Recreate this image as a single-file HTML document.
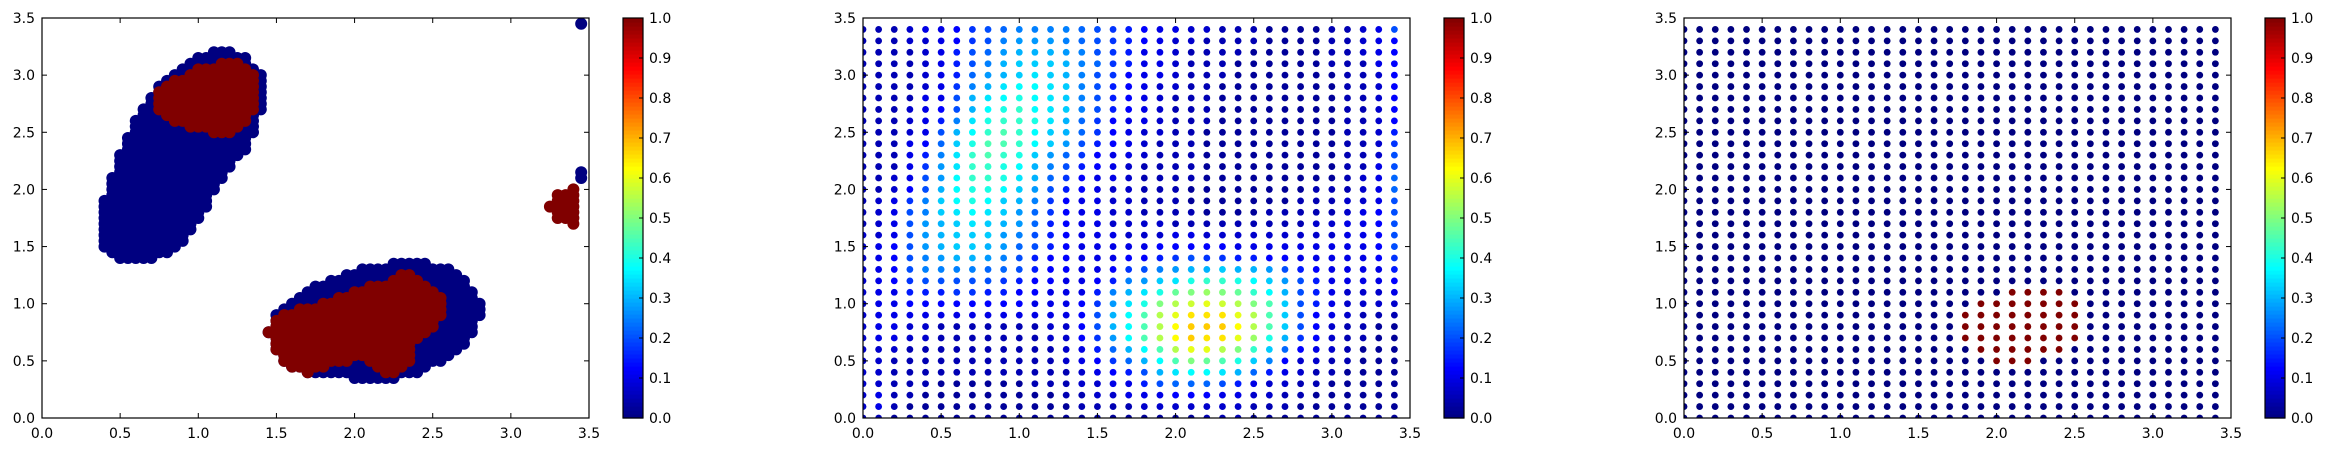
<!DOCTYPE html>
<html><head><meta charset="utf-8"><style>
html,body{margin:0;padding:0;background:#fff;}
svg text{font-family:"DejaVu Sans","Liberation Sans",sans-serif;font-size:14px;fill:#000;}
</style></head>
<body>
<svg id="fig" width="2326" height="452" xmlns="http://www.w3.org/2000/svg"></svg>
<script>
// ---- data ----
const xTicks = [0.0,0.5,1.0,1.5,2.0,2.5,3.0,3.5];
const yTicks = [0.0,0.5,1.0,1.5,2.0,2.5,3.0,3.5];
const cbTicks = [0.0,0.1,0.2,0.3,0.4,0.5,0.6,0.7,0.8,0.9,1.0];
// panel 1: cluster rows [y, xmin, xmax] on a 0.05 grid
const blob1Rows = [[1.40,.50,.70],[1.45,.45,.80],[1.50,.40,.85],[1.55,.40,.90],[1.60,.40,.90],[1.65,.40,.95],[1.70,.40,.95],[1.75,.40,1.0],[1.80,.40,1.0],[1.85,.40,1.05],[1.90,.40,1.05],[1.95,.45,1.05],[2.00,.45,1.10],[2.05,.45,1.10],[2.10,.45,1.15],[2.15,.50,1.15],[2.20,.50,1.20],[2.25,.50,1.20],[2.30,.50,1.25],[2.35,.55,1.30],[2.40,.55,1.30],[2.45,.55,1.30],[2.50,.60,1.35],[2.55,.60,1.35],[2.60,.60,1.35],[2.65,.65,1.35],[2.70,.65,1.40],[2.75,.70,1.40],[2.80,.70,1.40],[2.85,.75,1.40],[2.90,.75,1.40],[2.95,.80,1.40],[3.00,.85,1.40],[3.05,.90,1.35],[3.10,.95,1.30],[3.15,1.00,1.30],[3.20,1.10,1.20]];
const blob1Red = [[2.50,1.10,1.20],[2.55,.95,1.25],[2.60,.85,1.30],[2.65,.80,1.30],[2.70,.75,1.35],[2.75,.75,1.35],[2.80,.75,1.35],[2.85,.75,1.35],[2.90,.80,1.35],[2.95,.85,1.35],[3.00,.95,1.35],[3.05,1.00,1.30],[3.10,1.15,1.25]];
const blob2Rows = [[0.35,2.00,2.25],[0.40,1.70,2.40],[0.45,1.60,2.45],[0.50,1.55,2.55],[0.55,1.55,2.60],[0.60,1.50,2.65],[0.65,1.50,2.70],[0.70,1.50,2.70],[0.75,1.45,2.75],[0.80,1.50,2.75],[0.85,1.50,2.75],[0.90,1.50,2.80],[0.95,1.55,2.80],[1.00,1.60,2.80],[1.05,1.65,2.75],[1.10,1.70,2.75],[1.15,1.75,2.70],[1.20,1.85,2.70],[1.25,1.95,2.65],[1.30,2.05,2.60],[1.35,2.25,2.45]];
const blob2Red = [[0.40,1.70,1.70],[0.40,2.20,2.25],[0.45,1.60,1.80],[0.45,2.15,2.30],[0.50,1.55,1.95],[0.50,2.10,2.35],[0.55,1.55,2.35],[0.60,1.50,2.35],[0.65,1.50,2.35],[0.70,1.50,2.40],[0.75,1.45,2.45],[0.80,1.50,2.50],[0.85,1.50,2.50],[0.90,1.55,2.55],[0.95,1.65,2.55],[1.00,1.80,2.55],[1.05,1.90,2.55],[1.10,2.00,2.50],[1.15,2.10,2.45],[1.20,2.25,2.40],[1.25,2.30,2.35]];
const clusterRed = [[1.85,3.25,3.25],[1.75,3.30,3.35],[1.80,3.30,3.35],[1.85,3.30,3.35],[1.90,3.30,3.35],[1.95,3.30,3.35],[1.70,3.40,3.40],[1.75,3.40,3.40],[1.80,3.40,3.40],[1.85,3.40,3.40],[1.90,3.40,3.40],[1.95,3.40,3.40],[2.00,3.40,3.40]];
const strayBlueX = [3.45,3.45,3.45];
const strayBlueY = [2.10,2.15,3.45];
// panel 2: values on a 0.1 grid, rows from y=3.4 down to y=0.0, cols x=0.0..3.4; char index * 0.025
const gridRows = [
"22234 45789 aaaa9 87654 43322 21111 22348",
"22233 4578a bbba9 87654 33222 21111 22345",
"22223 4689b cccba 87644 32222 11111 22345",
"22223 468ac dddca 97644 32221 11111 22245",
"22223 469bc dedca 87544 32221 11111 12235",
"22223 47ace ffeda 86543 32211 11111 12235",
"22224 48cef gfeda 86543 22211 11111 12235",
"22234 58cfg hfeda 86543 22211 11111 12235",
"22234 6aegh hgec9 75443 22211 11111 12235",
"22234 8cfhi hfdc9 75433 22111 11111 12236",
"22245 9dgii hfdb8 65432 22111 11111 12237",
"22246 aehih gdb97 54432 22111 11111 12238",
"22247 behhg fca86 54322 22111 11111 12248",
"22348 bfhhg ec975 44322 22111 11111 12349",
"22358 cfggf db865 43322 21111 11112 22349",
"2347a dfgfd ca754 43322 21111 11122 23348",
"2348a defed b9754 43322 22111 12222 23458",
"2348b cdedc b9654 43333 22222 22223 34458",
"3348b cdddb a8654 44333 44333 33333 34458",
"3458b cddcb 98654 44445 55554 44444 44458",
"3458a bccba 86554 44556 78776 65544 44457",
"3458a aaa99 86554 4578a bccdc cb865 44446",
"34578 88887 65544 56abd eghhg fdb86 44445",
"34466 67766 55444 6aceg jklkj hfc86 43334",
"34455 55555 54445 7begk mnonm kid86 43333",
"34444 44444 44445 8cfim oqqqo mid85 43222",
"34433 22222 22335 8cfim prrrp mid85 32211",
"34433 22222 22335 7bfim prqqo lgc75 32211",
"33322 22222 22234 69cfi moomk hd954 32111",
"33222 22222 22234 579cf ikjig da533 22111",
"33222 22222 22223 4568c effec 96432 21111",
"33222 11111 12223 34468 99986 43322 11111",
"34221 11111 11122 33444 55544 33221 11111",
"34211 11111 11112 22233 33333 22211 11111",
"22111 11111 11111 11111 11222 11111 11111"
];
// panel 3: binary mask rows [y, xmin, xmax] of value 1 on 0.1 grid
const maskRows = [[1.1,2.1,2.4],[1.0,1.9,2.5],[0.9,1.8,2.5],[0.8,1.8,2.5],[0.7,1.8,2.5],[0.6,1.9,2.4],[0.5,2.0,2.2]];

// ---- layout ----
const NS = "http://www.w3.org/2000/svg";
const svg = document.getElementById('fig');
const LEFTS = [42, 863, 1684], TOP = 18, W = 547, H = 400;
function el(tag, attrs, parent){ const e=document.createElementNS(NS,tag); for(const k in attrs) e.setAttribute(k,attrs[k]); (parent||svg).appendChild(e); return e; }
function jet(v){
  v=Math.max(0,Math.min(1,v));
  const cl=x=>Math.max(0,Math.min(1,x));
  const r=cl(Math.min(4*v-1.5,-4*v+4.5)), g=cl(Math.min(4*v-0.5,-4*v+3.5)), b=cl(Math.min(4*v+0.5,-4*v+2.5));
  return `rgb(${Math.round(r*255)},${Math.round(g*255)},${Math.round(b*255)})`;
}
function sx(p,x){ return LEFTS[p] + x/3.5*W; }
function sy(y){ return TOP + H - y/3.5*H; }

function axes(p){
  const g = el('g',{});
  
  
  const defs = el('defs',{},g);
  const cp = el('clipPath',{id:'clip'+p},defs);
  el('rect',{x:LEFTS[p],y:TOP,width:W,height:H},cp);
  const pts = el('g',{'clip-path':`url(#clip${p})`},g);
  
  
  return {g, pts};
}
function frame(p, g){
  const L=LEFTS[p];
  const fr = el('rect',{x:L,y:TOP,width:W,height:H,fill:'none',stroke:'#000','stroke-width':1.2},g);
  
  
  xTicks.forEach(t=>{
    const x=sx(p,t);
    el('line',{x1:x,y1:TOP+H,x2:x,y2:TOP+H-5,stroke:'#000'},g);
    el('line',{x1:x,y1:TOP,x2:x,y2:TOP+5,stroke:'#000'},g);
    const tx=el('text',{x:x,y:438,'text-anchor':'middle'},g); tx.textContent=t.toFixed(1);
    
    
  });
  yTicks.forEach(t=>{
    const y=sy(t);
    el('line',{x1:L,y1:y,x2:L+5,y2:y,stroke:'#000'},g);
    el('line',{x1:L+W,y1:y,x2:L+W-5,y2:y,stroke:'#000'},g);
    const tx=el('text',{x:L-7,y:y+5,'text-anchor':'end'},g); tx.textContent=t.toFixed(1);
    
    
  });
  // colorbar
  const cx=L+581, cw=20;
  const cb=el('g',{},g);
  
  
  const N=100;
  for(let i=0;i<N;i++){
    el('rect',{x:cx,y:TOP+H-(i+1)*H/N,width:cw,height:H/N+0.6,fill:jet((i+0.5)/N)},cb);
  }
  el('rect',{x:cx,y:TOP,width:cw,height:H,fill:'none',stroke:'#000','stroke-width':1.2},cb);
  cbTicks.forEach(t=>{
    const y=TOP+H-t*H;
    el('line',{x1:cx+cw,y1:y,x2:cx+cw-4,y2:y,stroke:'#000'},cb);
    const tx=el('text',{x:cx+cw+6,y:y+5},cb); tx.textContent=t.toFixed(1);
    
    
  });
}
function dot(p, parent, x, y, r, v){
  const c=el('circle',{cx:sx(p,x),cy:sy(y),r:r,fill:jet(v)},parent);
  
  
}
function fillRows(p, parent, rows, v, r){
  rows.forEach(([y,a,b])=>{ for(let x=a; x<=b+1e-6; x+=0.05) dot(p,parent,x,y,r,v); });
}

// panel 1
(function(){
  const {g,pts}=axes(0);
  fillRows(0,pts,blob1Rows,0,6);
  fillRows(0,pts,blob2Rows,0,6);
  fillRows(0,pts,blob1Red,1,6);
  fillRows(0,pts,blob2Red,1,6);
  fillRows(0,pts,clusterRed,1,6);
  strayBlueX.forEach((x,i)=>dot(0,pts,x,strayBlueY[i],6,0));
  frame(0,g);
})();
// panel 2
(function(){
  const {g,pts}=axes(1);
  gridRows.forEach((row,ri)=>{
    const s=row.replace(/ /g,'');
    const y=(34-ri)/10;
    for(let ci=0;ci<s.length;ci++){
      const v=parseInt(s[ci],36)*0.025;
      dot(1,pts,ci/10,y,3.4,v);
    }
  });
  frame(1,g);
})();
// panel 3
(function(){
  const {g,pts}=axes(2);
  for(let yi=0;yi<35;yi++) for(let xi=0;xi<35;xi++){
    const x=xi/10,y=yi/10;
    const on=maskRows.some(([my,a,b])=>Math.abs(my-y)<1e-6 && x>=a-1e-6 && x<=b+1e-6);
    dot(2,pts,x,y,3.4,on?1:0);
  }
  frame(2,g);
})();
</script>
</body></html>
